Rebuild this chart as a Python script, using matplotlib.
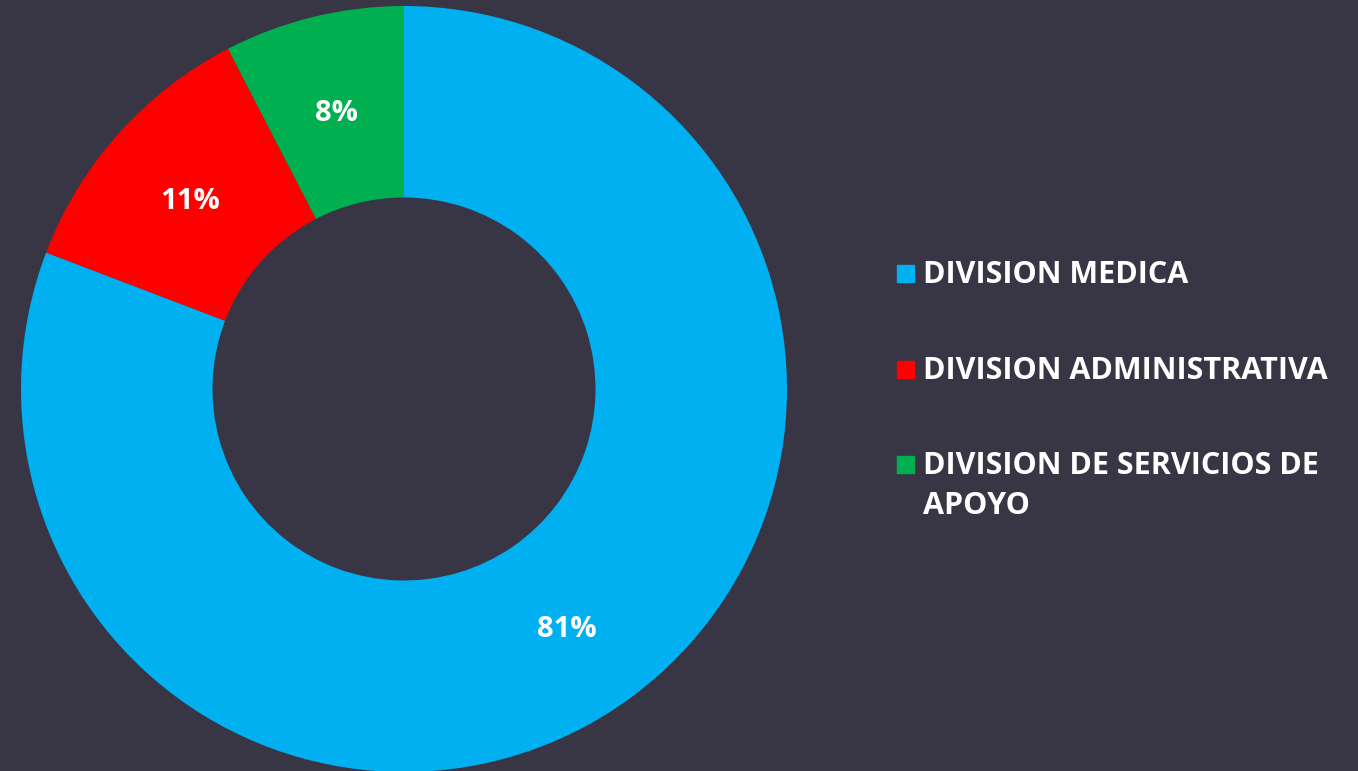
import matplotlib.pyplot as plt
from matplotlib.patches import Rectangle

divisions = ['DIVISION MEDICA', 'DIVISION ADMINISTRATIVA', 'DIVISION DE SERVICIOS DE\nAPOYO']
shares = [80.8, 11.6, 7.6]
share_labels = ['81%', '11%', '8%']
colors = ['#00B0F0', '#FF0000', '#00B050']
bg = '#383545'

plt.rcParams['font.family'] = ['Open Sans', 'DejaVu Sans']

fig = plt.figure(figsize=(13.58, 7.71), dpi=100, facecolor=bg)
ax = fig.add_axes([21 / 1358, -1 / 771, 766 / 1358, 766 / 771])
ax.set_facecolor(bg)

wedges, texts = ax.pie(
    shares, colors=colors, startangle=90, counterclock=False,
    radius=1, wedgeprops=dict(width=0.5, edgecolor='none'),
    labels=share_labels, labeldistance=0.75,
    textprops=dict(color='white', fontsize=21, fontweight='bold'))
for t in texts:
    t.set_horizontalalignment('center')
    t.set_verticalalignment('center_baseline')
ax.set_xlim(-1, 1)
ax.set_ylim(-1, 1)
ax.set_aspect('equal')

# legend drawn by hand so the square sits on the first line
ys = [273, 369, 464]
for lab, col, y in zip(divisions, colors, ys):
    fy = 1 - y / 771
    fig.patches.append(Rectangle((897 / 1358, fy - 8.5 / 771), 17 / 1358, 17 / 771,
                                 transform=fig.transFigure, color=col, figure=fig))
    fig.text(923 / 1358, fy + 13 / 771, lab, color='white', fontsize=22, fontweight='bold',
             va='top', ha='left', linespacing=1.42, transform=fig.transFigure)

fig.savefig('out.png', dpi=100, facecolor=bg)
